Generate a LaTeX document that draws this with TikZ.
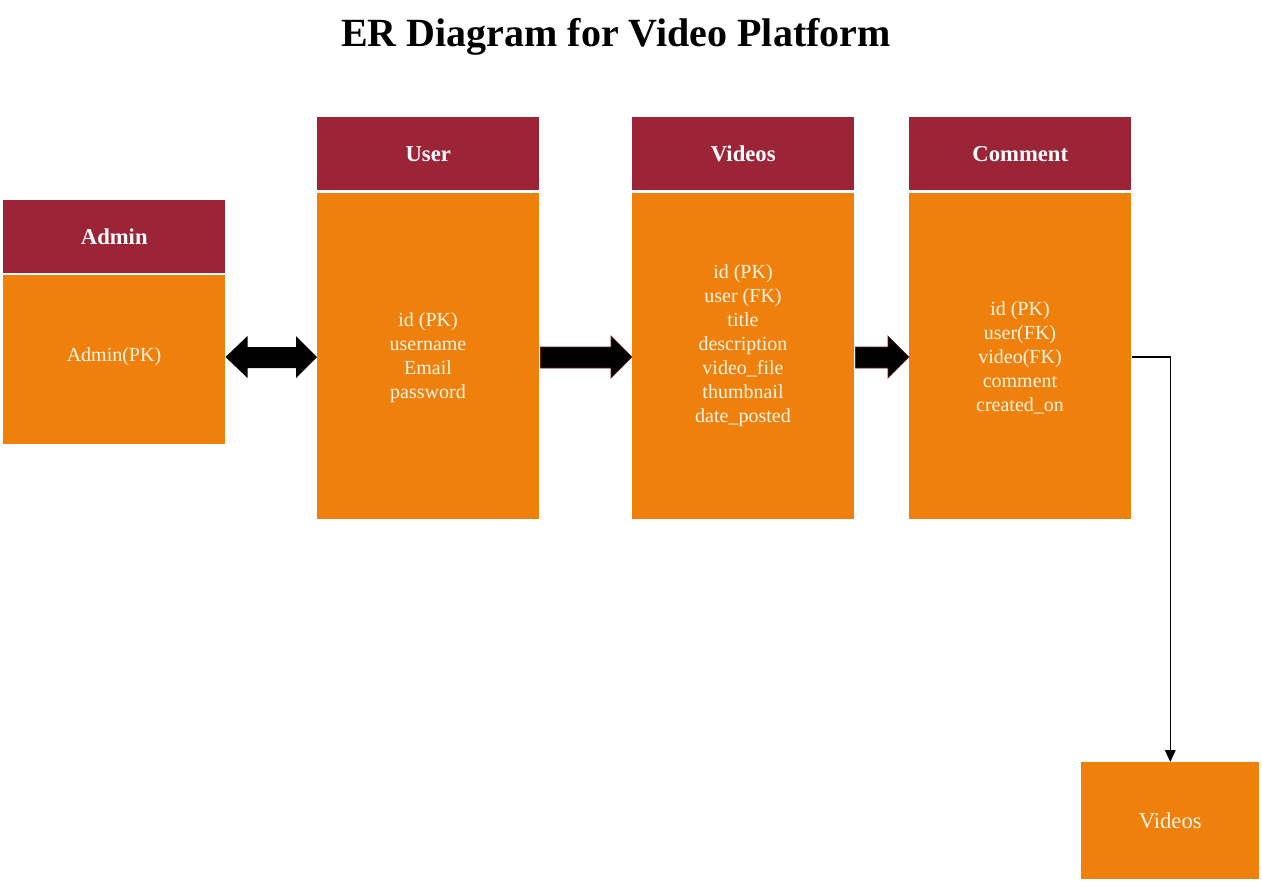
\documentclass[tikz,border=0pt]{standalone}
\usepackage{fontspec}
\setmainfont{Liberation Serif}
\usetikzlibrary{calc,arrows.meta}
\definecolor{hdrred}{RGB}{155,36,54}
\definecolor{bodyor}{RGB}{240,128,12}
\definecolor{txtc}{RGB}{255,246,230}
\tikzset{
  x=0.75pt, y=-0.75pt,
  hdr/.style={fill=hdrred, anchor=north west, minimum width=166.5pt, minimum height=54.75pt, inner sep=0pt, text=white, font=\fontsize{17}{20}\selectfont\bfseries},
  bodybox/.style={fill=bodyor, anchor=north west, minimum width=166.5pt, inner sep=0pt},
  attr/.style={text=txtc, align=center, font=\fontsize{15}{18}\selectfont, inner sep=0pt},
  fatarrow/.style={fill=black, draw=hdrred!70!black, line width=0.5pt},
  conn/.style={draw=black, line width=1.1pt, -{Triangle[length=9pt,width=8pt]}},
}
\begin{document}
\begin{tikzpicture}
\useasboundingbox (0,0) rectangle (1262,882);
% title
\node[anchor=base, font=\fontsize{30}{34}\selectfont\bfseries, inner sep=0pt] (title) at (616,46) {ER Diagram for Video Platform};
% Admin
\node[hdr] (adminh) at (3,200) {Admin};
\node[bodybox, minimum height=126.75pt] (adminb) at (3,275) {};
\node[attr] (admint) at (114,357) {Admin(PK)};
% User
\node[hdr] (userh) at (317,117) {User};
\node[bodybox, minimum height=244.5pt] (userb) at (317,193) {};
\node[attr] (usert) at (428,358) {id (PK)\\username\\Email\\password};
% Videos
\node[hdr] (videoh) at (632,117) {Videos};
\node[bodybox, minimum height=244.5pt] (videob) at (632,193) {};
\node[attr] (videot) at (743,346) {id (PK)\\user (FK)\\title\\description\\video\_file\\thumbnail\\date\_posted};
% Comment
\node[hdr] (commh) at (909,117) {Comment};
\node[bodybox, minimum height=244.5pt] (commb) at (909,193) {};
\node[attr] (commt) at (1020,358) {id (PK)\\user(FK)\\video(FK)\\comment\\created\_on};
% Videos small box
\node[fill=bodyor, anchor=north west, minimum width=133.5pt, minimum height=87.75pt, inner sep=0pt, text=txtc, font=\fontsize{17}{20}\selectfont] (vbox) at (1081,762) {Videos};
% double arrow Admin <-> User
\coordinate (a1) at (adminb.east |- admint);
\coordinate (a2) at (userb.west |- admint);
\fill[fatarrow, draw=none] (a1) -- ($(a1)+(22,-21)$) -- ($(a1)+(22,-10)$) -- ($(a2)+(-21,-10)$) -- ($(a2)+(-21,-21)$) -- (a2) -- ($(a2)+(-21,21)$) -- ($(a2)+(-21,11)$) -- ($(a1)+(22,11)$) -- ($(a1)+(22,21)$) -- cycle;
% User -> Videos
\coordinate (b1) at ($(userb.east |- admint)+(1,0)$);
\coordinate (b2) at (videob.west |- admint);
\filldraw[fatarrow] (b1) ++(0,-10) -- ($(b2)+(-21,-10)$) -- ($(b2)+(-21,-21)$) -- (b2) -- ($(b2)+(-21,21)$) -- ($(b2)+(-21,11)$) -- ($(b1)+(0,11)$) -- cycle;
% Videos -> Comment
\coordinate (c1) at ($(videob.east |- admint)+(1,0)$);
\coordinate (c2) at (commb.west |- admint);
\filldraw[fatarrow] (c1) ++(0,-10) -- ($(c2)+(-21,-10)$) -- ($(c2)+(-21,-21)$) -- (c2) -- ($(c2)+(-21,21)$) -- ($(c2)+(-21,11)$) -- ($(c1)+(0,11)$) -- cycle;
% connector Comment -> Videos box
\draw[conn] (commb.east |- admint) -| (vbox.north);
\end{tikzpicture}
\end{document}
